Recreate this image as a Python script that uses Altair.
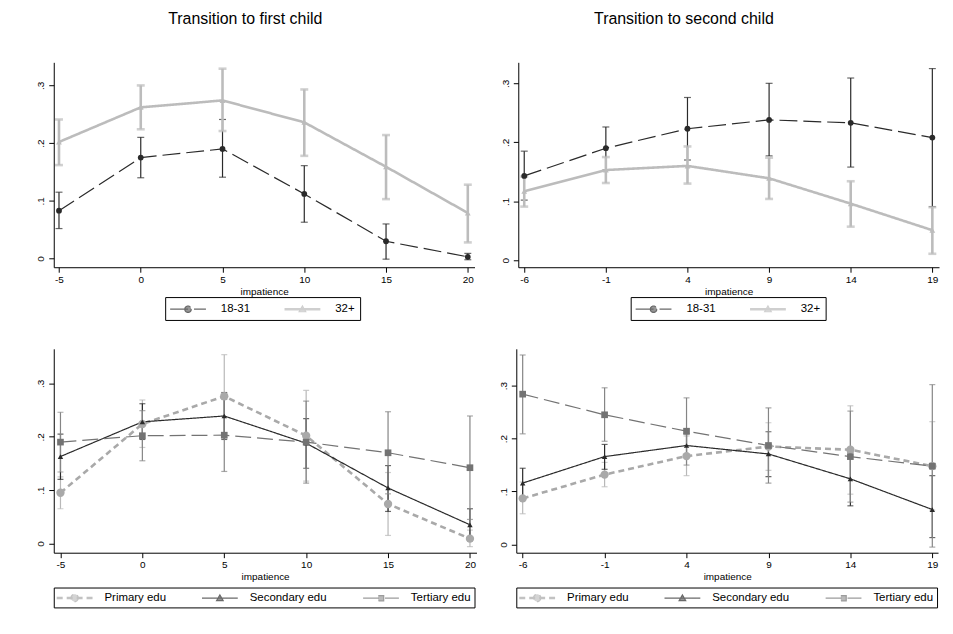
import altair as alt
import pandas as pd
import math

FONT = "Liberation Sans"

# ---------------- data ----------------
# Transition to first child, by age group
x_first = [-5, 0, 5, 10, 15, 20]
a1831_first = [0.083, 0.175, 0.190, 0.112, 0.030, 0.003]
a1831_first_lo = [0.052, 0.140, 0.141, 0.063, -0.001, -0.002]
a1831_first_hi = [0.115, 0.210, 0.241, 0.161, 0.060, 0.009]
a32_first = [0.202, 0.262, 0.274, 0.236, 0.159, 0.079]
a32_first_lo = [0.162, 0.224, 0.221, 0.178, 0.103, 0.028]
a32_first_hi = [0.241, 0.300, 0.329, 0.293, 0.214, 0.128]

# Transition to second child, by age group
x_second = [-6, -1, 4, 9, 14, 19]
a1831_second = [0.143, 0.190, 0.223, 0.238, 0.233, 0.208]
a1831_second_lo = [0.102, 0.153, 0.170, 0.177, 0.158, 0.091]
a1831_second_hi = [0.185, 0.226, 0.276, 0.300, 0.309, 0.325]
a32_second = [0.117, 0.153, 0.160, 0.139, 0.096, 0.051]
a32_second_lo = [0.091, 0.131, 0.130, 0.104, 0.057, 0.011]
a32_second_hi = [0.142, 0.175, 0.193, 0.174, 0.134, 0.090]

# Transition to first child, by education
prim_first = [0.095, 0.224, 0.276, 0.202, 0.074, 0.009]
prim_first_lo = [0.065, 0.180, 0.198, 0.117, 0.015, -0.006]
prim_first_hi = [0.125, 0.269, 0.354, 0.287, 0.133, 0.025]
sec_first = [0.163, 0.228, 0.239, 0.188, 0.104, 0.035]
sec_first_lo = [0.120, 0.195, 0.195, 0.141, 0.060, 0.005]
sec_first_hi = [0.205, 0.262, 0.283, 0.234, 0.146, 0.065]
ter_first = [0.190, 0.202, 0.203, 0.190, 0.170, 0.142]
ter_first_lo = [0.134, 0.155, 0.135, 0.113, 0.093, 0.045]
ter_first_hi = [0.246, 0.249, 0.270, 0.267, 0.247, 0.239]

# Transition to second child, by education
prim_second = [0.087, 0.132, 0.167, 0.185, 0.179, 0.148]
prim_second_lo = [0.058, 0.109, 0.130, 0.140, 0.095, 0.065]
prim_second_hi = [0.118, 0.155, 0.205, 0.230, 0.262, 0.232]
sec_second = [0.116, 0.166, 0.187, 0.171, 0.124, 0.066]
sec_second_lo = [0.087, 0.142, 0.166, 0.128, 0.073, 0.013]
sec_second_hi = [0.144, 0.189, 0.209, 0.213, 0.174, 0.130]
ter_second = [0.284, 0.245, 0.214, 0.187, 0.166, 0.148]
ter_second_lo = [0.209, 0.195, 0.150, 0.116, 0.080, -0.005]
ter_second_hi = [0.358, 0.296, 0.277, 0.258, 0.252, 0.302]

titles = ["Transition to first child", "Transition to second child"]
age_groups = ["18-31", "32+"]
edu_groups = ["Primary edu", "Secondary edu", "Tertiary edu"]
y_ticks = [0, 0.1, 0.2, 0.3]

# ---------------- styles ----------------
DARK = "#2a2a2a"
LIGHT = "#bcbcbc"
PRIM = "#a9a9a9"
TER = "#737373"

# legend symbol geometry: unit = sqrt(144)/2 = 6px; symbol centre sits 7px into the entry,
# so the drawing is shifted right by D units to start the line at the entry's left edge.
D = 1.833


def fmt(x, y):
    return "%.3f,%.3f" % (x + D, y)


def line_path(thick=False):
    if thick:
        return "M" + fmt(-3, -0.1) + "L" + fmt(3, -0.1) + "M" + fmt(-3, 0.1) + "L" + fmt(3, 0.1)
    return "M" + fmt(-3, 0) + "L" + fmt(3, 0)


def circle_path(r, n=14):
    pts = [fmt(r * math.cos(2 * math.pi * k / n), r * math.sin(2 * math.pi * k / n)) for k in range(n)]
    return "M" + "L".join(pts) + "Z"


def tri_path(r):
    return "M" + fmt(0, -r) + "L" + fmt(r, 0.75 * r) + "L" + fmt(-r, 0.75 * r) + "Z"


def sq_path(r):
    return "M" + fmt(-r, -r) + "L" + fmt(r, -r) + "L" + fmt(r, r) + "L" + fmt(-r, r) + "Z"


age_style = {
    "18-31": dict(color=DARK, ci=DARK, lw=1.2, ciw=1.2, cap=7, dash=[18, 6], shape="circle", size=34,
                  path=line_path() + circle_path(0.55)),
    "32+": dict(color=LIGHT, ci=LIGHT, lw=2.6, ciw=2.6, cap=8, dash=[1, 0], shape="triangle-up", size=34,
                path=line_path(True) + tri_path(0.55)),
}
edu_style = {
    "Primary edu": dict(color=PRIM, ci="#b8b8b8", lw=2.6, ciw=1.2, cap=6, dash=[6, 4], shape="circle", size=70,
                        path=line_path(True) + circle_path(0.62)),
    "Secondary edu": dict(color=DARK, ci=DARK, lw=1.2, ciw=1.2, cap=6, dash=[1, 0], shape="triangle-up", size=30,
                          path=line_path() + tri_path(0.55)),
    "Tertiary edu": dict(color=TER, ci="#858585", lw=1.2, ciw=1.2, cap=6, dash=[16, 6], shape="square", size=45,
                         path=line_path() + sq_path(0.45)),
}

Y_LABEL = "datum.value == 0 ? '0' : replace(format(datum.value, '.1f'), '0.', '.')"
X_LABEL = "datum.value < 0 ? '-' + abs(datum.value) : '' + datum.value"
LEG_CH = dict(stroke="independent", fill="independent", shape="independent", strokeDash="independent")


def build_df(xs, groups, vals, los, his):
    rows = []
    for g, v, lo, hi in zip(groups, vals, los, his):
        for x, a, b, c in zip(xs, v, lo, hi):
            rows.append({"x": x, "g": g, "y": a, "lo": b, "hi": c})
    return pd.DataFrame(rows)


def panel(df, xs, groups, styles, xdom, ydom, width, height, leg, title=None, title_dx=0):
    xsc = alt.Scale(domain=xdom, nice=False, zero=False)
    ysc = alt.Scale(domain=ydom, nice=False, zero=False)
    xax = alt.Axis(values=xs, labelExpr=X_LABEL, title="impatience", tickSize=5, labelPadding=2,
                   titlePadding=2, labelFlush=False)
    yax = alt.Axis(values=y_ticks, labelExpr=Y_LABEL, labelAngle=270, tickSize=5, labelPadding=3,
                   title=None)

    def X():
        return alt.X("x:Q", scale=xsc, axis=xax)

    def Y(f):
        return alt.Y(f + ":Q", scale=ysc, axis=yax)

    base = alt.Chart(df)
    layers = []
    # confidence intervals with caps
    for g in groups:
        s = styles[g]
        f = base.transform_filter(alt.datum.g == g)
        layers.append(f.mark_rule(color=s["ci"], strokeWidth=s["ciw"]).encode(
            x=X(), y=Y("lo"), y2="hi:Q"))
        for col in ("lo", "hi"):
            layers.append(f.mark_tick(color=s["ci"], thickness=s["ciw"], size=s["cap"],
                                      orient="horizontal").encode(x=X(), y=Y(col)))
    # connecting lines
    for g in groups:
        s = styles[g]
        f = base.transform_filter(alt.datum.g == g)
        layers.append(f.mark_line(color=s["color"], strokeWidth=s["lw"], strokeDash=s["dash"]).encode(
            x=X(), y=Y("y")))
    # markers
    for g in groups:
        s = styles[g]
        f = base.transform_filter(alt.datum.g == g)
        layers.append(f.mark_point(filled=True, color=s["color"], shape=s["shape"], size=s["size"],
                                   opacity=1).encode(x=X(), y=Y("y")))
    # legend carrier (draws no marks itself)
    legend = alt.Legend(
        orient="none", legendX=leg["x"], legendY=leg["y"], direction="horizontal",
        columns=len(groups), title=None, symbolSize=144, symbolStrokeWidth=1.2,
        symbolOffset=0, labelOffset=leg["lo"], columnPadding=leg["cp"], padding=leg["pad"],
        strokeColor="black", labelFont=FONT, labelFontSize=11.5, labelColor="black",
        labelLimit=200,
    )
    dom = list(groups)
    layers.append(base.transform_filter("false").mark_point(filled=True).encode(
        x=X(), y=Y("y"),
        stroke=alt.Stroke("g:N", scale=alt.Scale(domain=dom, range=[styles[g]["color"] for g in dom]),
                          legend=legend),
        fill=alt.Fill("g:N", scale=alt.Scale(domain=dom, range=[styles[g]["color"] for g in dom]),
                      legend=legend),
        shape=alt.Shape("g:N", scale=alt.Scale(domain=dom, range=[styles[g]["path"] for g in dom]),
                        legend=legend),
        strokeDash=alt.StrokeDash("g:N", scale=alt.Scale(domain=dom, range=[styles[g]["dash"] for g in dom]),
                                  legend=legend),
    ))
    props = dict(width=width, height=height)
    if title:
        props["title"] = alt.TitleParams(text=title, font=FONT, fontSize=16, fontWeight="normal",
                                         anchor="middle", offset=36, dx=title_dx, color="black")
    return alt.layer(*layers).properties(**props)


df_a = build_df(x_first, age_groups, [a1831_first, a32_first], [a1831_first_lo, a32_first_lo],
                [a1831_first_hi, a32_first_hi])
df_b = build_df(x_second, age_groups, [a1831_second, a32_second], [a1831_second_lo, a32_second_lo],
                [a1831_second_hi, a32_second_hi])
df_c = build_df(x_first, edu_groups, [prim_first, sec_first, ter_first],
                [prim_first_lo, sec_first_lo, ter_first_lo], [prim_first_hi, sec_first_hi, ter_first_hi])
df_d = build_df(x_second, edu_groups, [prim_second, sec_second, ter_second],
                [prim_second_lo, sec_second_lo, ter_second_lo], [prim_second_hi, sec_second_hi, ter_second_hi])

leg_top = dict(x=112, y=236, lo=37, cp=31, pad=5)
leg_bot = dict(x=0, y=240, lo=34, cp=33, pad=3)

pa = panel(df_a, x_first, age_groups, age_style, [-5.32, 20.41], [-0.015, 0.34], 423, 206,
           leg_top, titles[0], -19)
pb = panel(df_b, x_second, age_groups, age_style, [-6.365, 19.41], [-0.0118, 0.3356], 423, 206,
           dict(leg_top, x=113), titles[1], -45)
pc = panel(df_c, x_first, edu_groups, edu_style, [-5.41, 20.4], [-0.0174, 0.365], 425, 205, leg_bot)
pd_ = panel(df_d, x_second, edu_groups, edu_style, [-6.39, 19.35], [-0.0156, 0.3697], 424, 205, leg_bot)

top = alt.hconcat(pa, pb, spacing=24).resolve_scale(**LEG_CH).resolve_legend(**LEG_CH)
bottom = alt.hconcat(pc, pd_, spacing=20).resolve_scale(**LEG_CH).resolve_legend(**LEG_CH)

chart = alt.vconcat(top, bottom, spacing=27).resolve_scale(**LEG_CH).resolve_legend(**LEG_CH).properties(
    padding={"left": 27, "top": 0, "right": 5, "bottom": 5},
    background="white",
).configure_view(
    stroke="transparent"
).configure_axis(
    grid=False, domainColor="black", tickColor="black", labelColor="black", titleColor="black",
    labelFont=FONT, titleFont=FONT, labelFontSize=10, titleFontSize=10, titleFontWeight="normal",
    domainWidth=1, tickWidth=1,
)

chart.save("out.html", embed_options={"renderer": "svg", "actions": False})
